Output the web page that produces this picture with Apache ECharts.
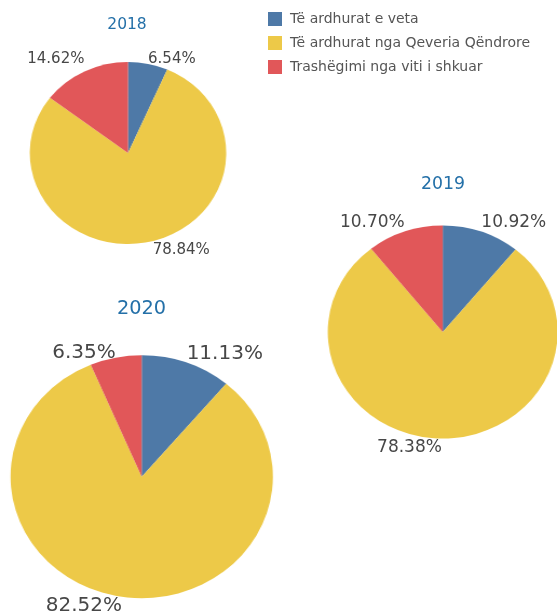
<!DOCTYPE html>
<html><head><meta charset="utf-8">
<script src="https://cdn.jsdelivr.net/npm/echarts@6/dist/echarts.min.js"></script>
<style>
html,body{margin:0;padding:0;background:#fff;overflow:hidden}
#wrap{position:relative;width:557px;height:614px}
#pies{position:absolute;left:0;top:0;width:516px;height:614px;transform:scaleX(1.0795);transform-origin:0 0}
#txt{position:absolute;left:0;top:0;width:557px;height:614px}
</style></head><body>
<div id="wrap"><div id="pies"></div><div id="txt"></div></div>
<script>
// ---- data ----
const years = ['2018', '2019', '2020'];
const categories = ['Të ardhurat e veta', 'Të ardhurat nga Qeveria Qëndrore', 'Trashëgimi nga viti i shkuar'];
const share2018 = [6.54, 78.84, 14.62];
const share2019 = [10.92, 78.38, 10.70];
const share2020 = [11.13, 82.52, 6.35];
const shares = [share2018, share2019, share2020];
const colors = ['#4e79a7', '#edc948', '#e15759'];

// ---- layout (styles, not data) ----
const stretch = 1.0795;
const layout = [
  {cx: 128, cy: 153, r: 91, fs: 15, tx: 127, ty: 24.5, tfs: 15.5},
  {cx: 442.7, cy: 332, r: 106.5, fs: 17, tx: 443, ty: 184.5, tfs: 17.3},
  {cx: 141.7, cy: 476.7, r: 121.5, fs: 20, tx: 141.5, ty: 309, tfs: 19.3}
];
const FONT = 'DejaVu Sans';

function pieData(i, transparent) {
  return categories.map((c, j) => ({
    name: c,
    value: shares[i][j],
    itemStyle: {color: transparent ? 'rgba(0,0,0,0)' : colors[j]}
  }));
}

const chartA = echarts.init(document.getElementById('pies'), null, {renderer: 'canvas'});
chartA.setOption({
  animation: false,
  series: years.map((y, i) => ({
    type: 'pie',
    name: y,
    center: [layout[i].cx / stretch, layout[i].cy],
    radius: [0, layout[i].r],
    startAngle: 90,
    clockwise: true,
    silent: true,
    label: {show: false},
    labelLine: {show: false},
    itemStyle: {borderWidth: 0},
    emphasis: {disabled: true},
    data: pieData(i, false)
  }))
});

function makeLabelLayout(i) {
  return function (p) {
    const vals = shares[i];
    const total = vals.reduce((a, b) => a + b, 0);
    let before = 0;
    for (let k = 0; k < p.dataIndex; k++) before += vals[k];
    const mid = (before + vals[p.dataIndex] / 2) / total * 360;
    const rad = mid * Math.PI / 180;
    const s = Math.sin(rad), c = Math.cos(rad);
    let dy;
    if (c > 0) {
      const phi = Math.min(mid, 360 - mid);
      dy = -(0.5 * phi - 1);
    } else {
      dy = 9;
    }
    const dx = s * layout[i].r * (stretch - 1);
    return {dx: dx, dy: dy};
  };
}

const chartB = echarts.init(document.getElementById('txt'), null, {renderer: 'canvas'});
chartB.setOption({
  animation: false,
  legend: {
    orient: 'vertical',
    left: 268,
    top: 12,
    padding: 0,
    itemWidth: 14,
    itemHeight: 14,
    itemGap: 10,
    icon: 'rect',
    selectedMode: false,
    data: categories.map((c, j) => ({name: c, itemStyle: {color: colors[j], borderWidth: 0}})),
    textStyle: {fontFamily: FONT, fontSize: 14, color: '#555555', padding: [0, 0, 0, 3]}
  },
  graphic: years.map((y, i) => ({
    type: 'text',
    x: layout[i].tx,
    y: layout[i].ty,
    silent: true,
    style: {
      text: y,
      fill: '#2470a8',
      fontFamily: FONT,
      fontSize: layout[i].tfs,
      align: 'center',
      verticalAlign: 'middle'
    }
  })),
  series: years.map((y, i) => ({
    type: 'pie',
    name: y,
    center: [layout[i].cx, layout[i].cy],
    radius: [0, layout[i].r],
    startAngle: 90,
    clockwise: true,
    silent: true,
    avoidLabelOverlap: false,
    itemStyle: {borderWidth: 0},
    emphasis: {disabled: true},
    label: {
      show: true,
      position: 'outside',
      distanceToLabelLine: 0,
      fontFamily: FONT,
      fontSize: layout[i].fs,
      color: '#474747',
      formatter: (p) => p.value.toFixed(2) + '%'
    },
    labelLine: {show: false, length: 0, length2: 0},
    labelLayout: makeLabelLayout(i),
    data: pieData(i, true)
  }))
});
</script>
</body></html>
